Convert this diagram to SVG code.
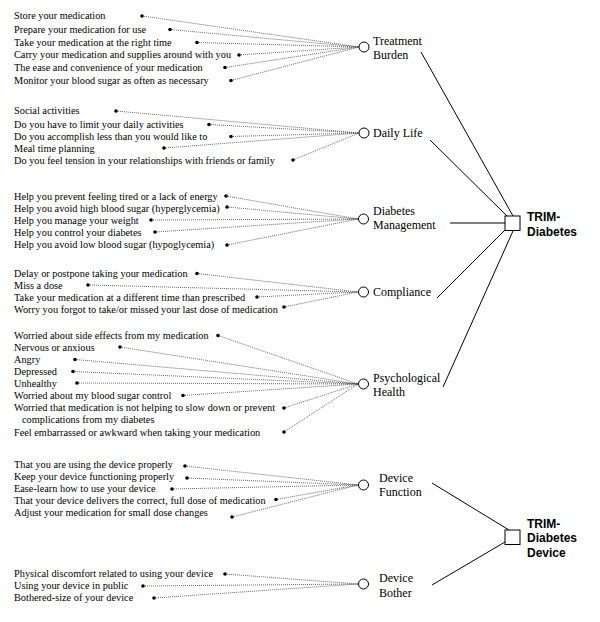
<svg xmlns="http://www.w3.org/2000/svg" width="600" height="622" viewBox="0 0 600 622">
<style>
.it{font-family:"Liberation Serif","Times New Roman",serif;font-size:10.3px;fill:#000}
.lb{font-family:"Liberation Serif","Times New Roman",serif;font-size:12px;fill:#000}
.bd{font-family:"Liberation Sans",Arial,sans-serif;font-size:12px;font-weight:bold;fill:#000}
.dot{fill:#000}
.fc{fill:#fff;stroke:#000;stroke-width:1}
.sq{fill:#fff;stroke:#000;stroke-width:1}
.dl{stroke:#444;stroke-width:0.8;stroke-dasharray:1 1;fill:none}
.sl{stroke:#000;stroke-width:1;fill:none}
</style>
<rect width="600" height="622" fill="#fff"/>
<g id="connectors">
<!-- Treatment Burden -->
<line class="dl" x1="142" y1="16" x2="359" y2="47"/>
<line class="dl" x1="170" y1="29.5" x2="359" y2="47"/>
<line class="dl" x1="197" y1="42.5" x2="359" y2="47"/>
<line class="dl" x1="239" y1="55" x2="359" y2="47"/>
<line class="dl" x1="225" y1="67.5" x2="359" y2="47"/>
<line class="dl" x1="231" y1="80.5" x2="359" y2="47"/>
<!-- Daily Life -->
<line class="dl" x1="116" y1="111" x2="359" y2="133"/>
<line class="dl" x1="209" y1="124.5" x2="359" y2="133"/>
<line class="dl" x1="231" y1="136.5" x2="359" y2="133"/>
<line class="dl" x1="164" y1="148" x2="359" y2="133"/>
<line class="dl" x1="293" y1="160" x2="359" y2="133"/>
<!-- Diabetes Management -->
<line class="dl" x1="226" y1="196" x2="358" y2="219"/>
<line class="dl" x1="227" y1="207" x2="358" y2="219"/>
<line class="dl" x1="151" y1="220" x2="358" y2="219"/>
<line class="dl" x1="155" y1="232" x2="358" y2="219"/>
<line class="dl" x1="227" y1="245" x2="358" y2="219"/>
<!-- Compliance -->
<line class="dl" x1="197" y1="273.5" x2="358" y2="292"/>
<line class="dl" x1="88" y1="285" x2="358" y2="292"/>
<line class="dl" x1="257" y1="297" x2="358" y2="292"/>
<line class="dl" x1="284" y1="307" x2="358" y2="292"/>
<!-- Psychological Health -->
<line class="dl" x1="218" y1="335.5" x2="358" y2="384"/>
<line class="dl" x1="120" y1="347" x2="358" y2="384"/>
<line class="dl" x1="75" y1="359.5" x2="358" y2="384"/>
<line class="dl" x1="73" y1="371.5" x2="358" y2="384"/>
<line class="dl" x1="77" y1="383" x2="358" y2="384"/>
<line class="dl" x1="183" y1="395.5" x2="358" y2="384"/>
<line class="dl" x1="284" y1="408" x2="358" y2="384"/>
<line class="dl" x1="284" y1="432" x2="358" y2="384"/>
<!-- Device Function -->
<line class="dl" x1="185" y1="466" x2="358" y2="485"/>
<line class="dl" x1="187" y1="478" x2="358" y2="485"/>
<line class="dl" x1="172" y1="489" x2="358" y2="485"/>
<line class="dl" x1="276" y1="499.5" x2="358" y2="485"/>
<line class="dl" x1="232" y1="517" x2="358" y2="485"/>
<!-- Device Bother -->
<line class="dl" x1="225" y1="574" x2="358" y2="584"/>
<line class="dl" x1="143" y1="586" x2="358" y2="584"/>
<line class="dl" x1="154" y1="598" x2="358" y2="584"/>
<!-- factor to scale -->
<line class="sl" x1="421" y1="52" x2="513" y2="216"/>
<line class="sl" x1="430" y1="140" x2="507" y2="216"/>
<line class="sl" x1="450" y1="223" x2="505" y2="223"/>
<line class="sl" x1="437" y1="298" x2="505" y2="230"/>
<line class="sl" x1="443" y1="387" x2="513" y2="231"/>
<line class="sl" x1="432" y1="483" x2="509" y2="530"/>
<line class="sl" x1="432" y1="585" x2="505" y2="542"/>
</g>
<g id="items-treatment-burden">
<text class="it" x="14" y="19">Store your medication</text><circle class="dot" cx="142" cy="16" r="1.8"/>
<text class="it" x="14" y="32.5">Prepare your medication for use</text><circle class="dot" cx="170" cy="29.5" r="1.8"/>
<text class="it" x="14" y="45.5">Take your medication at the right time</text><circle class="dot" cx="197" cy="42.5" r="1.8"/>
<text class="it" x="14" y="58">Carry your medication and supplies around with you</text><circle class="dot" cx="239" cy="55" r="1.8"/>
<text class="it" x="14" y="70.5">The ease and convenience of your medication</text><circle class="dot" cx="225" cy="67.5" r="1.8"/>
<text class="it" x="14" y="83.5">Monitor your blood sugar as often as necessary</text><circle class="dot" cx="231" cy="80.5" r="1.8"/>
</g>
<g id="items-daily-life">
<text class="it" x="14" y="114">Social activities</text><circle class="dot" cx="116" cy="111" r="1.8"/>
<text class="it" x="14" y="127.5">Do you have to limit your daily activities</text><circle class="dot" cx="209" cy="124.5" r="1.8"/>
<text class="it" x="14" y="139.5">Do you accomplish less than you would like to</text><circle class="dot" cx="231" cy="136.5" r="1.8"/>
<text class="it" x="14" y="151.5">Meal time planning</text><circle class="dot" cx="164" cy="148" r="1.8"/>
<text class="it" x="14" y="163.5">Do you feel tension in your relationships with friends or family</text><circle class="dot" cx="293" cy="160" r="1.8"/>
</g>
<g id="items-diabetes-management">
<text class="it" x="14" y="199.5">Help you prevent feeling tired or a lack of energy</text><circle class="dot" cx="226" cy="196" r="1.8"/>
<text class="it" x="14" y="211.5">Help you avoid high blood sugar (hyperglycemia)</text><circle class="dot" cx="227" cy="207" r="1.8"/>
<text class="it" x="14" y="224">Help you manage your weight</text><circle class="dot" cx="151" cy="220" r="1.8"/>
<text class="it" x="14" y="236">Help you control your diabetes</text><circle class="dot" cx="155" cy="232" r="1.8"/>
<text class="it" x="14" y="248">Help you avoid low blood sugar (hypoglycemia)</text><circle class="dot" cx="227" cy="245" r="1.8"/>
</g>
<g id="items-compliance">
<text class="it" x="14" y="276.5">Delay or postpone taking your medication</text><circle class="dot" cx="197" cy="273.5" r="1.8"/>
<text class="it" x="14" y="288.5">Miss a dose</text><circle class="dot" cx="88" cy="285" r="1.8"/>
<text class="it" x="14" y="300.5">Take your medication at a different time than prescribed</text><circle class="dot" cx="257" cy="297" r="1.8"/>
<text class="it" x="14" y="312.5">Worry you forgot to take/or missed your last dose of medication</text><circle class="dot" cx="284" cy="307" r="1.8"/>
</g>
<g id="items-psychological-health">
<text class="it" x="14" y="338.5">Worried about side effects from my medication</text><circle class="dot" cx="218" cy="335.5" r="1.8"/>
<text class="it" x="14" y="350.5">Nervous or anxious</text><circle class="dot" cx="120" cy="347" r="1.8"/>
<text class="it" x="14" y="362.5">Angry</text><circle class="dot" cx="75" cy="359.5" r="1.8"/>
<text class="it" x="14" y="374.5">Depressed</text><circle class="dot" cx="73" cy="371.5" r="1.8"/>
<text class="it" x="14" y="386.5">Unhealthy</text><circle class="dot" cx="77" cy="383" r="1.8"/>
<text class="it" x="14" y="398.5">Worried about my blood sugar control</text><circle class="dot" cx="183" cy="395.5" r="1.8"/>
<text class="it" x="14" y="411">Worried that medication is not helping to slow down or prevent</text><circle class="dot" cx="284" cy="408" r="1.8"/>
<text class="it" x="22" y="423">complications from my diabetes</text>
<text class="it" x="14" y="435.5">Feel embarrassed or awkward when taking your medication</text><circle class="dot" cx="284" cy="432" r="1.8"/>
</g>
<g id="items-device-function">
<text class="it" x="14" y="467.5">That you are using the device properly</text><circle class="dot" cx="185" cy="466" r="1.8"/>
<text class="it" x="14" y="479.5">Keep your device functioning properly</text><circle class="dot" cx="187" cy="478" r="1.8"/>
<text class="it" x="14" y="491.5">Ease-learn how to use your device</text><circle class="dot" cx="172" cy="489" r="1.8"/>
<text class="it" x="14" y="503.5">That your device delivers the correct, full dose of medication</text><circle class="dot" cx="276" cy="499.5" r="1.8"/>
<text class="it" x="14" y="515.5">Adjust your medication for small dose changes</text><circle class="dot" cx="232" cy="517" r="1.8"/>
</g>
<g id="items-device-bother">
<text class="it" x="14" y="577">Physical discomfort related to using your device</text><circle class="dot" cx="225" cy="574" r="1.8"/>
<text class="it" x="14" y="589">Using your device in public</text><circle class="dot" cx="143" cy="586" r="1.8"/>
<text class="it" x="14" y="601">Bothered-size of your device</text><circle class="dot" cx="154" cy="598" r="1.8"/>
</g>
<g id="treatment-burden"><circle class="fc" cx="364" cy="47" r="5"/><text class="lb" x="373" y="44.5">Treatment</text><text class="lb" x="373" y="58.5">Burden</text></g>
<g id="daily-life"><circle class="fc" cx="364" cy="133" r="5"/><text class="lb" x="373" y="137">Daily Life</text></g>
<g id="diabetes-management"><circle class="fc" cx="363.5" cy="219" r="5"/><text class="lb" x="373" y="215">Diabetes</text><text class="lb" x="373" y="229">Management</text></g>
<g id="compliance"><circle class="fc" cx="363.5" cy="292" r="5"/><text class="lb" x="373" y="296">Compliance</text></g>
<g id="psychological-health"><circle class="fc" cx="363.5" cy="384" r="5"/><text class="lb" x="373" y="381.5">Psychological</text><text class="lb" x="373" y="395.5">Health</text></g>
<g id="device-function"><circle class="fc" cx="363.5" cy="485" r="5"/><text class="lb" x="379" y="482">Device</text><text class="lb" x="379" y="496">Function</text></g>
<g id="device-bother"><circle class="fc" cx="363.5" cy="584" r="5"/><text class="lb" x="379" y="582">Device</text><text class="lb" x="379" y="596.5">Bother</text></g>
<g id="trim-diabetes"><rect class="sq" x="505" y="216" width="15" height="14.5"/><text class="bd" x="527" y="220.5">TRIM-</text><text class="bd" x="527" y="235.5">Diabetes</text></g>
<g id="trim-diabetes-device"><rect class="sq" x="505" y="530" width="15" height="14.5"/><text class="bd" x="527" y="527.5">TRIM-</text><text class="bd" x="527" y="542">Diabetes</text><text class="bd" x="527" y="556.5">Device</text></g>
</svg>
